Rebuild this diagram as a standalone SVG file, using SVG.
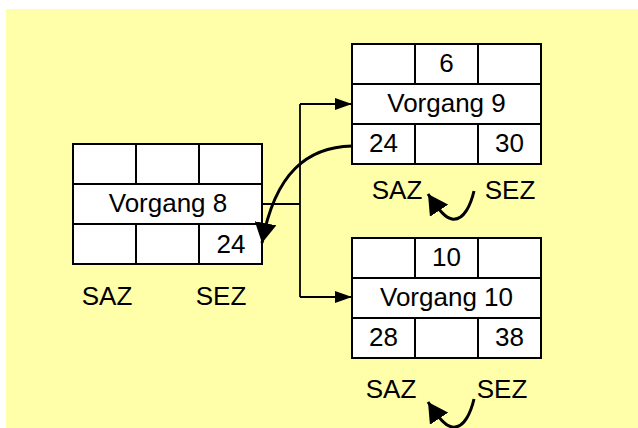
<svg xmlns="http://www.w3.org/2000/svg" width="638" height="428" viewBox="0 0 638 428">
  <style>
    .cell { fill: #ffffff; stroke: #000000; stroke-width: 2; }
    .t { font-family: "Liberation Sans", Arial, sans-serif; font-size: 26px; fill: #000000; text-anchor: middle; }
    .wire { fill: none; stroke: #000000; stroke-width: 1.8; }
    .bend { fill: none; stroke: #000000; stroke-width: 3; }
  </style>
  <defs>
    <marker id="tri" viewBox="0 0 17 12" refX="17" refY="6" markerWidth="17" markerHeight="12" markerUnits="userSpaceOnUse" orient="auto">
      <path d="M0,0 L17,6 L0,12 Z" fill="#000000"/>
    </marker>
    <marker id="bigtri" viewBox="0 0 20 22" refX="20" refY="11" markerWidth="20" markerHeight="22" markerUnits="userSpaceOnUse" orient="auto">
      <path d="M0,0 L20,11 L0,22 Z" fill="#000000"/>
    </marker>
  </defs>

  <!-- background panel -->
  <rect x="6" y="9" width="632" height="419" fill="#ffffa9"/>

  <!-- Vorgang 8 -->
  <g id="vorgang8">
    <rect class="cell" x="73" y="144" width="63" height="40"/>
    <rect class="cell" x="136" y="144" width="63" height="40"/>
    <rect class="cell" x="199" y="144" width="63" height="40"/>
    <rect class="cell" x="73" y="184" width="189" height="40"/>
    <rect class="cell" x="73" y="224" width="63" height="40"/>
    <rect class="cell" x="136" y="224" width="63" height="40"/>
    <rect class="cell" x="199" y="224" width="63" height="40"/>
    <text class="t" x="168" y="212">Vorgang 8</text>
    <text class="t" x="231" y="253">24</text>
    <text class="t" x="107" y="305">SAZ</text>
    <text class="t" x="221" y="305">SEZ</text>
  </g>

  <!-- Vorgang 9 -->
  <g id="vorgang9">
    <rect class="cell" x="352" y="44" width="63" height="40"/>
    <rect class="cell" x="415" y="44" width="63" height="40"/>
    <rect class="cell" x="478" y="44" width="63" height="40"/>
    <rect class="cell" x="352" y="84" width="189" height="40"/>
    <rect class="cell" x="352" y="124" width="63" height="40"/>
    <rect class="cell" x="415" y="124" width="63" height="40"/>
    <rect class="cell" x="478" y="124" width="63" height="40"/>
    <text class="t" x="446.5" y="72">6</text>
    <text class="t" x="446.5" y="112">Vorgang 9</text>
    <text class="t" x="383.5" y="152">24</text>
    <text class="t" x="509.5" y="152">30</text>
    <text class="t" x="397" y="199">SAZ</text>
    <text class="t" x="510" y="199">SEZ</text>
  </g>

  <!-- Vorgang 10 -->
  <g id="vorgang10">
    <rect class="cell" x="352" y="238" width="63" height="40"/>
    <rect class="cell" x="415" y="238" width="63" height="40"/>
    <rect class="cell" x="478" y="238" width="63" height="40"/>
    <rect class="cell" x="352" y="278" width="189" height="40"/>
    <rect class="cell" x="352" y="318" width="63" height="40"/>
    <rect class="cell" x="415" y="318" width="63" height="40"/>
    <rect class="cell" x="478" y="318" width="63" height="40"/>
    <text class="t" x="446.5" y="266">10</text>
    <text class="t" x="446.5" y="306">Vorgang 10</text>
    <text class="t" x="383.5" y="346">28</text>
    <text class="t" x="509.5" y="346">38</text>
    <text class="t" x="391" y="398">SAZ</text>
    <text class="t" x="502" y="398">SEZ</text>
  </g>

  <!-- connectors -->
  <g id="connectors">
    <path class="wire" d="M262,204 H300"/>
    <path class="wire" d="M300,104 V297"/>
    <path class="wire" d="M300,104 H352" marker-end="url(#tri)"/>
    <path class="wire" d="M300,297 H352" marker-end="url(#tri)"/>
    <path class="bend" d="M352,146 C308,147 275,172 262,243" marker-end="url(#bigtri)"/>
    <path class="bend" d="M474,191 C471,204 464,221 452,219 C446,218 440,212 428,194" marker-end="url(#bigtri)"/>
    <path class="bend" d="M474,399 C471,412 464,429 452,427 C446,426 440,420 428,402" marker-end="url(#bigtri)"/>
  </g>
</svg>
